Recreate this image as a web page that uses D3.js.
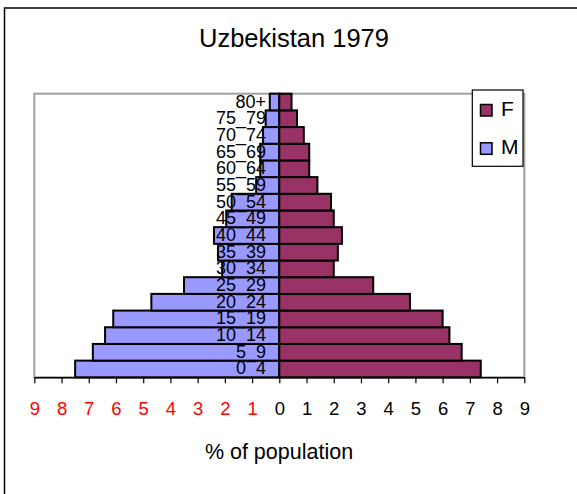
<!DOCTYPE html>
<html>
<head>
<meta charset="utf-8">
<script src="https://cdn.jsdelivr.net/npm/d3@7"></script>
<style>
  body { margin: 0; background: #fff; }
  svg { display: block; font-family: "Liberation Sans", Arial, sans-serif; }
</style>
</head>
<body>
<script>
// Datos (% de población)
const grupos = ['0_4', '5_9', '10_14', '15_19', '20_24', '25_29', '30_34', '35_39', '40_44',
    '45_49', '50_54', '55_59', '60_64', '65_69', '70_74', '75_79', '80+'];
const hombres = [7.5, 6.85, 6.4, 6.1, 4.7, 3.5, 2.1, 2.25, 2.4, 1.95, 1.75, 0.85, 0.7, 0.7, 0.6, 0.5, 0.35];
const mujeres = [7.4, 6.7, 6.25, 6.0, 4.8, 3.45, 2.0, 2.15, 2.3, 2.0, 1.9, 1.4, 1.1, 1.1, 0.9, 0.65, 0.45];
const marcas = [-9, -8, -7, -6, -5, -4, -3, -2, -1, 0, 1, 2, 3, 4, 5, 6, 7, 8, 9];
const series = ['F', 'M'];

const w = 577;
const h = 494;

const colores = { M: '#9999ff', F: '#993366' };

var svg = d3.select('body')
    .append('svg')
    .attr('width', w)
    .attr('height', h);

// marco exterior
svg.append('rect')
    .attr('x', 4.5)
    .attr('y', 8)
    .attr('width', 600)
    .attr('height', 520)
    .attr('fill', 'white')
    .attr('stroke', 'black')
    .attr('stroke-width', 1.5);

// Escalas
const x = d3.scaleLinear()
    .domain([-9, 9])
    .range([34.3, 524.3]);

const y = d3.scaleBand()
    .domain(grupos)
    .range([377.3, 93.7])
    .padding(0);

// borde del área del gráfico
svg.append('rect')
    .attr('x', 34.3)
    .attr('y', 93.7)
    .attr('width', 490)
    .attr('height', 283.6)
    .attr('fill', 'none')
    .attr('stroke', '#a0a0a0')
    .attr('stroke-width', 2);

const filas = grupos.map((g, i) => ({ grupo: g, M: hombres[i], F: mujeres[i] }));

// Barras hombres (izquierda)
svg.selectAll('.bar-m')
    .data(filas)
    .enter()
    .append('rect')
    .attr('class', 'bar-m')
    .attr('x', (d) => x(-d.M))
    .attr('y', (d) => y(d.grupo))
    .attr('width', (d) => x(0) - x(-d.M))
    .attr('height', y.bandwidth())
    .attr('fill', colores.M)
    .attr('stroke', 'black')
    .attr('stroke-width', 2);

// Barras mujeres (derecha)
svg.selectAll('.bar-f')
    .data(filas)
    .enter()
    .append('rect')
    .attr('class', 'bar-f')
    .attr('x', x(0))
    .attr('y', (d) => y(d.grupo))
    .attr('width', (d) => x(d.F) - x(0))
    .attr('height', y.bandwidth())
    .attr('fill', colores.F)
    .attr('stroke', 'black')
    .attr('stroke-width', 2);

// Etiquetas de grupos de edad
svg.selectAll('.etiqueta')
    .data(grupos)
    .enter()
    .append('text')
    .attr('class', 'etiqueta')
    .attr('x', 266)
    .attr('y', (d) => y(d) + y.bandwidth() / 2 + 5.5)
    .attr('text-anchor', 'end')
    .attr('font-size', '18px')
    .attr('fill', 'black')
    .text((d) => d);

// Eje X
var eje = svg.append('g')
    .attr('transform', `translate(0,${377.3})`)
    .call(d3.axisBottom(x)
        .tickValues(marcas)
        .tickSize(6)
        .tickSizeOuter(0)
        .tickPadding(19)
        .tickFormat((d) => Math.abs(d)));

eje.select('.domain')
    .attr('stroke', 'black')
    .attr('stroke-width', 1.5);

eje.selectAll('.tick line')
    .attr('stroke', 'black')
    .attr('stroke-width', 1.2);

eje.selectAll('.tick text')
    .attr('font-size', '18.5px')
    .attr('font-family', '"Liberation Sans", Arial, sans-serif')
    .attr('fill', (d) => d < 0 ? 'red' : 'black');

// Títulos
svg.append('text')
    .attr('x', 294)
    .attr('y', 47.3)
    .attr('text-anchor', 'middle')
    .attr('font-size', '25.5px')
    .text('Uzbekistan 1979');

svg.append('text')
    .attr('x', 279)
    .attr('y', 459.3)
    .attr('text-anchor', 'middle')
    .attr('font-size', '21.5px')
    .text('% of population');

// Leyenda
var leyenda = svg.append('g')
    .attr('id', 'legend');

leyenda.append('rect')
    .attr('x', 472.3)
    .attr('y', 90)
    .attr('width', 50.7)
    .attr('height', 76.3)
    .attr('fill', 'white')
    .attr('stroke', 'black')
    .attr('stroke-width', 1.2);

var items = leyenda.selectAll('.legend-item')
    .data(series)
    .enter()
    .append('g')
    .attr('class', 'legend-item')
    .attr('transform', (d, i) => `translate(0,${i * 38.3})`);

items.append('rect')
    .attr('x', 480.5)
    .attr('y', 104.5)
    .attr('width', 11.5)
    .attr('height', 11.5)
    .attr('fill', (d) => colores[d])
    .attr('stroke', 'black')
    .attr('stroke-width', 1.5);

items.append('text')
    .attr('x', 501)
    .attr('y', 116.2)
    .attr('font-size', '21px')
    .text((d) => d);
</script>
</body>
</html>
